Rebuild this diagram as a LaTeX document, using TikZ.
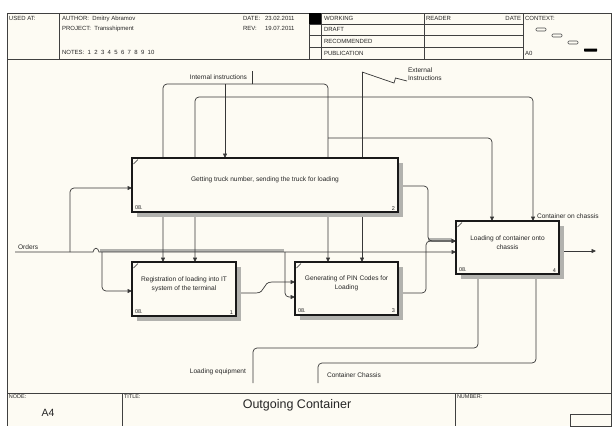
\documentclass[tikz,border=0pt]{standalone}
\usepackage{fontspec}
\setmainfont{Liberation Sans}
\usetikzlibrary{arrows.meta,calc,shadows}
\definecolor{bgc}{RGB}{253,251,243}
\definecolor{ln}{RGB}{55,55,55}
\definecolor{shd}{RGB}{178,178,174}
\pgfdeclarelayer{bg}
\pgfdeclarelayer{wires}
\pgfsetlayers{bg,wires,main}
\begin{document}
\begin{tikzpicture}[x=1pt,y=-1pt,
  every node/.style={inner sep=0pt,outer sep=0pt},
  hdr/.style={font=\fontsize{6.0}{7}\selectfont,anchor=north west,text=black!85},
  lbl/.style={font=\fontsize{6.6}{7.6}\selectfont,text=black!85},
  btxt/.style={font=\fontsize{6.6}{8.6}\selectfont,align=center,text=black!85},
  tinyt/.style={font=\fontsize{5.5}{6}\selectfont,text=black!85},
  box/.style={draw=black!90,line width=1.3pt,fill=bgc,
    general shadow={shadow xshift=5pt,shadow yshift=-5pt,fill=shd}},
  wire/.style={draw=ln,line width=0.7pt},
  arr/.style={wire,-{Triangle[length=4.5pt,width=4pt]}},
  rc/.style={rounded corners=4pt},
  frm/.style={draw=black!75,line width=0.8pt},
  band/.style={draw=shd,line width=3.2pt}]
\useasboundingbox (0,0) rectangle (615,426);
% ---------- background and frame
\begin{pgfonlayer}{bg}
\fill[white] (0,0) rectangle (615,426);
\fill[bgc] (7,13) rectangle (611,426);
\draw[frm] (7,13) rectangle (611,59);
\draw[frm] (7,59) -- (7,426) (611,59) -- (611,426);
\draw[frm] (59,13) -- (59,59) (309,13) -- (309,59) (321,13) -- (321,59)
           (424,13) -- (424,59) (523,13) -- (523,59);
\draw[frm] (309,24) -- (523,24) (309,35) -- (523,35) (309,47) -- (523,47);
\fill[black] (309,13) rectangle (321,24);
\draw[frm] (7,393) -- (611,393) (122,393) -- (122,426) (455,393) -- (455,426);
\draw[frm] (570,414) rectangle (611,426);
% context marks
\draw[black!70,line width=0.6pt,rounded corners=1pt] (536,28) rectangle (546,31);
\draw[black!70,line width=0.6pt,rounded corners=1pt] (552,34) rectangle (562,37);
\draw[black!70,line width=0.6pt,rounded corners=1pt] (568,41) rectangle (578,44);
\fill[black,rounded corners=0.5pt] (584,48.5) rectangle (597,51.5);
\end{pgfonlayer}
% ---------- header texts
\node[hdr] (h1) at (9,16) {USED AT:};
\node[hdr] (h2) at (62,16) {AUTHOR:\ \ Dmitry Abramov};
\node[hdr] (h3) at (62,26) {PROJECT:\ \ Transshipment};
\node[hdr] (h4) at (62,50) {NOTES:\ \ 1\ \ 2\ \ 3\ \ 4\ \ 5\ \ 6\ \ 7\ \ 8\ \ 9\ \ 10};
\node[hdr] (h5) at (243,16) {DATE:};
\node[hdr] (h6) at (265,16) {23.02.2011};
\node[hdr] (h7) at (243,26) {REV:};
\node[hdr] (h8) at (265,26) {19.07.2011};
\node[hdr] (h9) at (324,16) {WORKING};
\node[hdr] (h10) at (324,27) {DRAFT};
\node[hdr] (h11) at (324,39) {RECOMMENDED};
\node[hdr] (h12) at (324,51) {PUBLICATION};
\node[hdr] (h13) at (426,16) {READER};
\node[hdr,anchor=north east] (h14) at (521,16) {DATE};
\node[hdr] (h15) at (525,16) {CONTEXT:};
\node[hdr] (h16) at (525,51) {A0};
% ---------- footer texts
\node[tinyt,anchor=north west] (f1) at (9,395) {NODE:};
\node[font=\fontsize{10.5}{12}\selectfont,text=black!85] (f2) at (48,413) {A4};
\node[tinyt,anchor=north west] (f3) at (124,395) {TITLE:};
\node[font=\fontsize{12.5}{14}\selectfont,text=black!85] (f4) at (297,405) {Outgoing Container};
\node[tinyt,anchor=north west] (f5) at (457,395) {NUMBER:};
% ---------- activity boxes
\node[box,minimum width=266pt,minimum height=54pt] (b2) at (265,185) {};
\node[box,minimum width=104pt,minimum height=54pt] (b1) at (184,289) {};
\node[box,minimum width=103pt,minimum height=53pt] (b3) at (346.5,288.5) {};
\node[box,minimum width=103pt,minimum height=53pt] (b4) at (507.5,247.5) {};
\foreach \b in {b1,b2,b3,b4}{
  \draw[black!85,line width=0.6pt] ($(\b.north west)+(1.5,6)$) -- ($(\b.north west)+(6,1.5)$);
}
\node[btxt] (t2) at ($(b2.north)+(0,22)$) {Getting truck number, sending the truck for loading};
\node[btxt] (t1) at ($(b1.north)+(0,22)$) {Registration of loading into IT\\system of the terminal};
\node[btxt] (t3) at ($(b3.north)+(0,21.5)$) {Generating of PIN Codes for\\Loading};
\node[btxt] (t4) at ($(b4.north)+(0,21.5)$) {Loading of container onto\\chassis};
\node[tinyt,anchor=south west] (d1) at ($(b1.south west)+(3,-2)$) {08.};
\node[tinyt,anchor=south east] (n1) at ($(b1.south east)+(-3,-2)$) {1};
\node[tinyt,anchor=south west] (d2) at ($(b2.south west)+(3,-2)$) {08.};
\node[tinyt,anchor=south east] (n2) at ($(b2.south east)+(-3,-2)$) {2};
\node[tinyt,anchor=south west] (d3) at ($(b3.south west)+(3,-2)$) {08.};
\node[tinyt,anchor=south east] (n3) at ($(b3.south east)+(-3,-2)$) {3};
\node[tinyt,anchor=south west] (d4) at ($(b4.south west)+(3,-2)$) {08.};
\node[tinyt,anchor=south east] (n4) at ($(b4.south east)+(-3,-2)$) {4};
% ---------- arrow labels
\node[lbl,anchor=south west] (lOrd) at (18,249.5) {Orders};
\node[lbl,anchor=east] (lII) at (247,77) {Internal instructions};
\node[lbl,anchor=north west,align=left] (lEI) at (408,68) {External\\Instructions};
\node[lbl,anchor=east] (lLE) at (246,372) {Loading equipment};
\node[lbl,anchor=west] (lCC) at (327,375) {Container Chassis};
\node[lbl,anchor=west] (lCO) at (537,216) {Container on chassis};
% ---------- coordinates
\coordinate (oS) at (15,252);
\coordinate (j1) at (70,252);
\coordinate (c1) at (70,188);
\coordinate (j2) at (102,252);
\coordinate (c2) at (102,291);
\coordinate (j3) at (285,252);
\coordinate (c3) at (285,297);
\coordinate (k1) at (428,186);
\coordinate (k2) at (428,241);
\coordinate (k3) at (426,293);
\coordinate (k4) at (426,241);
\coordinate (m1) at (256,293);
\coordinate (m2) at (272,282);
\coordinate (ii0) at (252,71);
\coordinate (ii1) at (252,84);
\coordinate (iL) at (163,84);
\coordinate (iM) at (225,84);
\coordinate (iR) at (328,84);
\coordinate (iB) at (328,138);
\coordinate (iB2) at (492,138);
\coordinate (ei0) at (362,72);
\coordinate (ez1) at (394,83);
\coordinate (ez2) at (395.5,78);
\coordinate (ez3) at (407,81);
\coordinate (eJ) at (362,97);
\coordinate (eL) at (195,97);
\coordinate (eR) at (533,97);
\coordinate (le0) at (253,383);
\coordinate (le1) at (253,348);
\coordinate (le2) at (478,348);
\coordinate (cc0) at (318,383);
\coordinate (cc1) at (318,363);
\coordinate (cc2) at (536,363);
\coordinate (oc) at (596,251);
% ---------- connectors
\begin{pgfonlayer}{wires}
\draw[band] (100,250.5) -- (284,250.5);
\draw[band] (428,240) -- (452,240);
% Orders
\draw[arr] (oS) -- (93,252) .. controls (94,247) and (98,247) .. (99,252) -- (b4.west|-oS);
\draw[arr,rc] (j1) -- (c1) -- (b2.west|-c1);
\draw[arr,rc] (j2) -- (c2) -- (b1.west|-c2);
\draw[arr,rc] (j3) -- (c3) -- (b3.west|-c3);
% box outputs
\draw[arr,rc] (b2.east|-k1) -- (k1) -- (k2) -- (b4.west|-k2);
\draw[arr,rc] (b3.east|-k3) -- (k3) -- (k4) -- (b4.west|-k4);
\draw[arr] (b1.east|-m1) -- (m1) .. controls (266,293) and (262,282) .. (m2) -- (b3.west|-m2);
\draw[arr] (b4.east|-oc) -- (oc);
% internal instructions
\draw[wire] (ii0) -- (ii1);
\draw[arr,rc] (ii1) -- (iL) -- (b1.north-|iL);
\draw[arr,rc] (ii1) -- (iR) -- (b3.north-|iR);
\draw[arr] (iM) -- (b2.north-|iM);
\draw[arr,rc] (iB) -- (iB2) -- (b4.north-|iB2);
% external instructions
\draw[wire] (ei0) -- (ez1) -- (ez2) -- (ez3);
\draw[arr] (ei0) -- (b3.north-|ei0);
\draw[arr,rc] (eJ) -- (eL) -- (b1.north-|eL);
\draw[arr,rc] (eJ) -- (eR) -- (b4.north-|eR);
% mechanisms
\draw[arr,rc] (le0) -- (le1) -- (le2) -- (b4.south-|le2);
\draw[arr,rc] (cc0) -- (cc1) -- (cc2) -- (b4.south-|cc2);
\end{pgfonlayer}
\end{tikzpicture}
\end{document}
